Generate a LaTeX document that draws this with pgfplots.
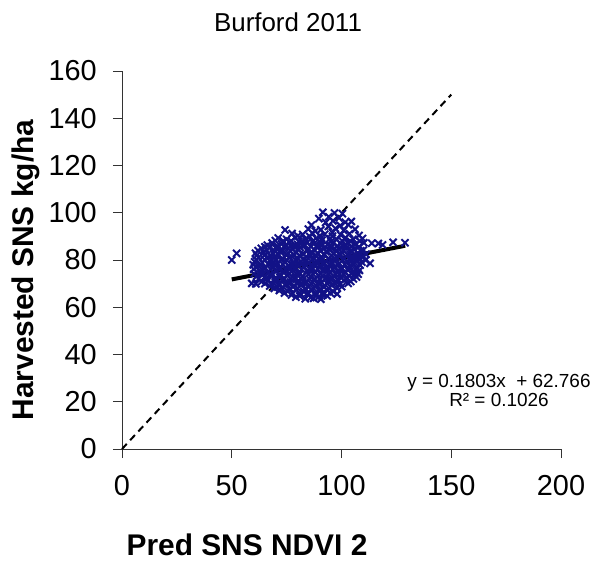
\documentclass[border=0pt]{standalone}
\usepackage{fontspec}
\setmainfont{Liberation Sans}
\usepackage{pgfplots}
\pgfplotsset{compat=1.18}
\definecolor{ptblue}{RGB}{18,18,135}
\begin{document}
\begin{tikzpicture}
\useasboundingbox (0bp,0bp) rectangle (596bp,564bp);
\begin{axis}[
  at={(122bp,115bp)}, anchor=south west,
  scale only axis, width=439bp, height=378bp,
  xmin=0, xmax=200, ymin=0, ymax=160,
  axis x line*=bottom, axis y line*=left,
  xtick={0,50,...,200}, ytick={0,20,...,160},
  tick align=outside, major tick length=9bp,
  tick style={line width=0.9bp, black!80},
  axis line style={line width=0.9bp, black!80},
  /pgf/number format/assume math mode=true,
  ticklabel style={font=\fontsize{29}{30}\selectfont, inner sep=0pt},
  yticklabel style={anchor=east, xshift=-16bp},
  xticklabel style={anchor=north, yshift=-17bp},
  clip=false,
]
\addplot[black, line width=2bp, dash pattern=on 7bp off 5bp] coordinates {(0,0) (150,150)};
\addplot[only marks, mark=x, mark size=5bp, ptblue, mark options={line width=2bp}] coordinates {
(91.5,100.2) (96.8,99.9) (100.4,99.6)
(94.2,98.3) (98.9,97.8) (89.7,97.5)
(96.1,96.6) (104.5,96.3) (92.8,95.9) (101.7,96.0)
(86.3,94.8) (99.4,94.6) (94.0,94.2) (103.1,94.9)
(74.3,92.7) (84.9,93.1) (90.6,92.8) (97.2,93.4) (101.0,92.5) (106.2,93.0) (88.1,92.2)
(77.5,91.2) (82.3,90.8) (86.7,91.4) (92.4,90.9) (95.8,91.6) (99.5,90.7) (103.6,91.1) (108.0,90.4) (80.1,90.2)
(71.2,89.3) (75.0,88.7) (78.8,89.5) (83.6,88.9) (88.4,89.2) (91.1,88.4) (94.7,89.0) (97.9,88.6) (101.8,89.4) (105.3,88.8) (109.6,89.1) (73.4,88.1)
(68.4,87.2) (72.7,86.8) (76.3,87.4) (80.0,86.6) (84.2,87.3) (87.5,86.9) (90.8,87.1) (93.6,86.5) (96.4,87.6) (99.7,86.8) (103.0,87.2) (106.5,86.7) (110.2,87.3) (113.8,87.1) (116.8,87.0) (118.7,86.4) (123.5,87.5) (128.9,87.3) (65.1,85.6)
(63.5,84.9) (67.2,85.1) (70.5,84.7) (74.1,85.4) (77.6,84.6) (81.3,85.2) (85.0,84.8) (88.6,85.5) (92.1,84.9) (95.3,85.3) (98.8,84.7) (102.4,85.1) (105.7,84.6) (110.0,84.2) (79.4,85.9) (91.0,86.0)
(60.8,82.9) (64.6,83.3) (68.9,82.6) (72.3,83.2) (75.8,82.8) (79.1,83.4) (82.7,82.5) (86.2,83.1) (89.5,82.7) (93.0,83.5) (96.6,82.9) (100.1,83.2) (103.8,82.6) (107.3,83.0) (52.2,82.8) (111.2,82.4) (84.4,84.0) (97.8,84.1)
(62.2,81.1) (66.0,80.8) (69.4,81.3) (73.0,80.7) (76.5,81.2) (80.2,80.6) (83.9,81.4) (87.3,80.9) (90.7,81.1) (94.3,80.5) (97.6,81.3) (101.2,80.8) (104.6,81.2) (108.4,80.6) (50.0,80.0) (78.4,82.0) (92.2,82.1)
(60.4,79.2) (63.9,78.8) (67.5,79.4) (70.8,78.6) (74.4,79.1) (78.0,78.7) (81.6,79.3) (85.1,78.9) (88.8,79.5) (92.0,78.8) (95.5,79.2) (99.0,78.6) (102.5,79.4) (106.0,78.9) (109.3,79.1) (113.0,78.6) (72.6,80.0) (86.9,80.1) (100.6,80.0)
(61.5,77.0) (65.3,76.7) (68.7,77.3) (72.1,76.8) (75.9,77.4) (79.3,76.6) (82.8,77.2) (86.5,76.9) (90.1,77.5) (93.4,76.7) (96.9,77.1) (100.3,76.5) (103.7,77.3) (107.1,76.8) (77.6,78.0) (91.8,78.1) (105.2,78.0)
(62.8,75.2) (66.6,74.8) (70.0,75.4) (73.6,74.7) (77.2,75.1) (80.7,74.6) (84.3,75.3) (87.9,74.9) (91.4,75.5) (94.8,74.8) (98.2,75.2) (101.8,74.6) (105.3,75.0) (108.2,75.6) (81.9,76.0) (96.0,76.1)
(61.3,73.1) (64.9,72.7) (68.3,73.3) (71.9,72.8) (75.4,73.4) (78.9,72.6) (82.4,73.2) (86.0,72.9) (89.6,73.5) (93.1,72.7) (96.5,73.1) (100.0,72.5) (103.4,73.3) (106.8,72.8) (84.8,74.0) (99.1,74.1)
(59.1,70.1) (63.6,70.8) (66.4,71.2) (69.8,70.7) (73.3,71.3) (76.8,70.6) (80.4,71.1) (83.9,70.8) (87.4,71.4) (90.9,70.6) (94.3,71.2) (97.7,70.7) (101.1,71.3) (104.2,70.9) (78.6,72.0) (92.6,72.0)
(67.3,69.0) (70.9,68.6) (74.5,69.2) (78.1,68.8) (81.5,69.4) (85.0,68.7) (88.5,69.1) (92.0,68.5) (95.6,69.3) (100.1,68.7) (83.3,70.0) (97.1,70.1)
(71.7,67.1) (75.6,66.8) (79.3,67.3) (82.8,66.6) (86.4,67.2) (89.9,66.9) (93.4,67.4) (96.3,66.6)
(77.2,65.2) (81.0,64.8) (84.6,65.4) (88.2,64.9) (91.7,65.3) (98.0,65.6)
(83.5,63.6) (87.3,63.8) (90.6,63.4)
(82.1,78.3) (85.8,81.9) (89.2,76.2) (80.9,73.9) (88.0,71.9) (94.9,79.9) (76.2,76.1) (90.4,84.1) (83.1,86.1) (87.0,88.0) (93.8,75.9) (79.8,69.9) (86.2,78.0) (84.0,79.8) (89.7,80.3)
(74.8,82.0) (70.2,80.0) (66.8,78.1) (64.2,74.0) (70.5,72.1) (74.9,70.0) (95.2,72.0) (98.5,77.9) (102.9,75.8) (104.8,79.9) (99.3,82.0) (102.1,86.2) (95.9,90.1) (90.2,90.2) (85.6,89.9) (80.6,88.0) (76.8,85.9) (72.0,84.0) (107.8,82.0) (106.0,74.0)
(69.9,88.2) (77.1,88.0) (81.9,87.9) (89.9,88.0) (95.2,87.8) (100.3,88.1) (104.1,87.9) (108.3,88.0)
(66.2,86.3) (70.8,86.0) (74.6,86.2) (78.2,85.8) (82.0,86.2) (86.0,85.9) (89.1,86.3) (94.8,86.1) (98.0,85.8) (101.0,86.0) (104.6,85.8) (108.0,85.6)
(62.0,84.0) (65.8,84.2) (69.6,83.8) (73.2,84.1) (76.7,83.8) (80.4,84.2) (87.8,84.0) (94.6,84.2) (100.9,84.0) (104.3,84.1) (108.8,83.9)
(61.4,81.9) (64.9,82.1) (67.7,81.8) (71.4,82.1) (80.9,82.0) (88.1,82.1) (95.4,81.9) (102.8,82.1) (106.0,81.8) (110.0,81.5)
(61.2,80.0) (65.0,80.1) (68.0,80.2) (75.0,80.0) (79.1,80.1) (82.5,80.2) (91.0,79.9) (97.5,80.1) (103.6,80.2) (107.0,80.0) (111.0,80.0)
(59.8,78.0) (62.9,77.9) (69.8,78.0) (73.2,78.2) (80.1,78.0) (84.0,77.8) (88.0,78.2) (95.0,78.0) (101.5,78.1) (108.5,77.8)
(60.0,76.1) (64.0,75.9) (67.8,76.0) (71.2,76.2) (74.6,75.9) (78.4,76.2) (85.6,76.0) (92.3,76.3) (99.6,76.0) (102.9,76.2) (106.5,75.9)
(60.2,74.1) (63.4,74.0) (67.4,73.9) (72.0,74.0) (76.0,74.2) (79.6,74.0) (87.0,74.1) (90.6,74.0) (94.0,74.1) (97.2,74.0) (101.0,74.0) (104.5,74.2) (107.6,74.0)
(62.2,72.0) (66.0,72.1) (69.5,72.0) (73.6,72.2) (76.9,71.9) (81.5,72.1) (85.4,72.0) (90.1,71.9) (94.6,72.1) (98.3,71.8) (102.0,72.0) (105.4,72.0)
(61.0,69.9) (65.1,70.0) (68.2,69.9) (71.8,69.9) (76.3,70.0) (81.9,70.2) (86.2,70.0) (89.5,70.1) (93.6,70.0) (99.5,70.0) (103.0,70.1)
(69.4,68.0) (72.9,68.0) (76.5,67.9) (80.0,68.1) (83.6,67.9) (87.1,68.1) (90.6,67.8) (94.2,68.0) (98.0,68.1)
(74.0,66.0) (77.6,66.1) (81.0,66.0) (84.7,66.1) (88.1,66.0) (91.6,66.1) (94.9,66.0)
(79.2,64.3) (86.0,64.1) (89.8,64.6) (93.5,64.8)
};
\addplot[black, line width=4bp] coordinates {(50,71.781) (129,86.025)};
\end{axis}
\node[anchor=base, font=\fontsize{26}{28}\selectfont] at (288bp,532bp) {Burford 2011};
\node[rotate=90, anchor=base, font=\bfseries\fontsize{30}{32}\selectfont] at (33bp,294bp) {Harvested SNS kg/ha};
\node[anchor=base, font=\bfseries\fontsize{30}{32}\selectfont] at (247bp,9bp) {Pred SNS NDVI 2};
\node[anchor=base, font=\fontsize{19}{20}\selectfont] at (499bp,176bp) {y = 0.1803x~ + 62.766};
\node[anchor=base, font=\fontsize{19}{20}\selectfont] at (499bp,157bp) {R² = 0.1026};
\end{tikzpicture}
\end{document}
